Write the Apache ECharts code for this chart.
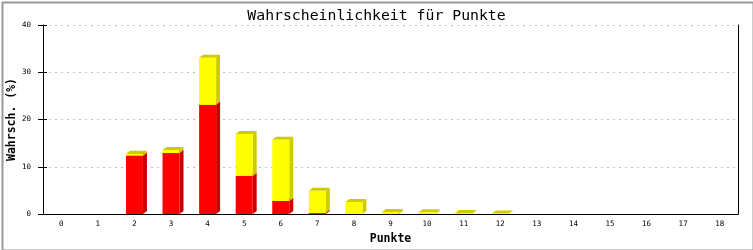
<!DOCTYPE html>
<html>
<head>
<meta charset="utf-8">
<script src="https://cdn.jsdelivr.net/npm/echarts@6/dist/echarts.min.js"></script>
<style>
html,body{margin:0;padding:0;background:#fff;}
#c{width:753px;height:250px;}
</style>
</head>
<body>
<div id="c"></div>
<script>
var categories = ['0','1','2','3','4','5','6','7','8','9','10','11','12','13','14','15','16','17','18'];
var redValues = [0,0,12.35,12.9,23.1,8.05,2.75,0.2,0,0,0,0,0,0,0,0,0,0,0];
var yellowValues = [0,0,0.42,0.64,9.95,8.9,12.95,4.7,2.55,0.42,0.36,0.2,0.12,0,0,0,0,0,0];
var yTicks = [0,10,20,30,40];

var redData = redValues.map(function(v,i){return [i,0,v];});
var yellowData = yellowValues.map(function(v,i){return [i,redValues[i],redValues[i]+v];});

function makeRender(front, dark){
  return function(params, api){
    var i = api.value(0), b = api.value(1), t = api.value(2);
    if (!(t - b > 0)) return;
    var pT = api.coord([i, t]);
    var pB = api.coord([i, b]);
    var bw = api.size([1,0])[0]*0.465;
    var dx = 4, dy = 3;
    var x0 = pT[0]-bw/2, x1 = x0+bw;
    var yT = pT[1], yB = pB[1];
    return {
      type:'group',
      children:[
        {type:'polygon', shape:{points:[[x1,yT],[x1+dx,yT-dy],[x1+dx,yB-dy],[x1,yB]]}, style:{fill:dark}},
        {type:'polygon', shape:{points:[[x0,yT],[x0+dx,yT-dy],[x1+dx,yT-dy],[x1,yT]]}, style:{fill:dark}},
        {type:'rect', shape:{x:x0,y:yT,width:bw,height:yB-yT}, style:{fill:front}}
      ]
    };
  };
}

var chart = echarts.init(document.getElementById('c'), null, {renderer:'canvas'});
var mono = 'DejaVu Sans Mono';
chart.setOption({
  animation:false,
  backgroundColor:'#fff',
  title:{
    text:'Wahrscheinlichkeit für Punkte',
    left:'center', top:4,
    textStyle:{fontFamily:mono,fontSize:14.8,fontWeight:'normal',color:'#000'}
  },
  grid:{left:43,right:15,top:25,bottom:36,containLabel:false,outerBoundsMode:'none'},
  xAxis:{
    type:'category', data:categories, boundaryGap:true,
    name:'Punkte', nameLocation:'middle', nameGap:19, nameMoveOverlap:false,
    nameTextStyle:{fontFamily:mono,fontSize:11.5,fontWeight:'bold',color:'#000'},
    axisLine:{lineStyle:{color:'#000',width:1}},
    axisTick:{show:false},
    axisLabel:{fontFamily:mono,fontSize:7.5,color:'#000',margin:6},
    splitLine:{show:false}
  },
  yAxis:[
    {
      type:'value', min:0, max:40, interval:10,
      name:'Wahrsch. (%)', nameLocation:'middle', nameGap:25, nameRotate:90, nameMoveOverlap:false,
      nameTextStyle:{fontFamily:mono,fontSize:11.5,fontWeight:'bold',color:'#000'},
      axisLine:{show:true,lineStyle:{color:'#000',width:1}},
      axisTick:{show:true,length:5,lineStyle:{color:'#000'}},
      axisLabel:{fontFamily:mono,fontSize:7.5,color:'#000',margin:12,
        formatter:function(v){return yTicks.indexOf(v)>=0?String(v):'';}},
      splitLine:{show:true,lineStyle:{color:'#c0c0c0',type:[2,4],width:1}}
    },
    {
      type:'value', min:0, max:40, interval:10, position:'left',
      axisLine:{show:false},
      axisTick:{show:true,inside:true,length:4,lineStyle:{color:'#000'}},
      axisLabel:{show:false}, splitLine:{show:false}
    },
    {
      type:'value', min:0, max:40, interval:10, position:'right',
      axisLine:{show:true,lineStyle:{color:'#000',width:1}},
      axisTick:{show:false}, axisLabel:{show:false}, splitLine:{show:false}
    }
  ],
  graphic:[{
    type:'rect', left:0, top:0, z:100,
    shape:{x:1,y:1,width:751,height:248},
    style:{fill:'none',stroke:'#999',lineWidth:2}
  }],
  series:[
    {type:'custom', renderItem:makeRender('#ff0000','#cc0000'), data:redData, encode:{x:0,y:[1,2]}, z:2},
    {type:'custom', renderItem:makeRender('#ffff00','#cccc00'), data:yellowData, encode:{x:0,y:[1,2]}, z:3}
  ]
});
</script>
</body>
</html>
